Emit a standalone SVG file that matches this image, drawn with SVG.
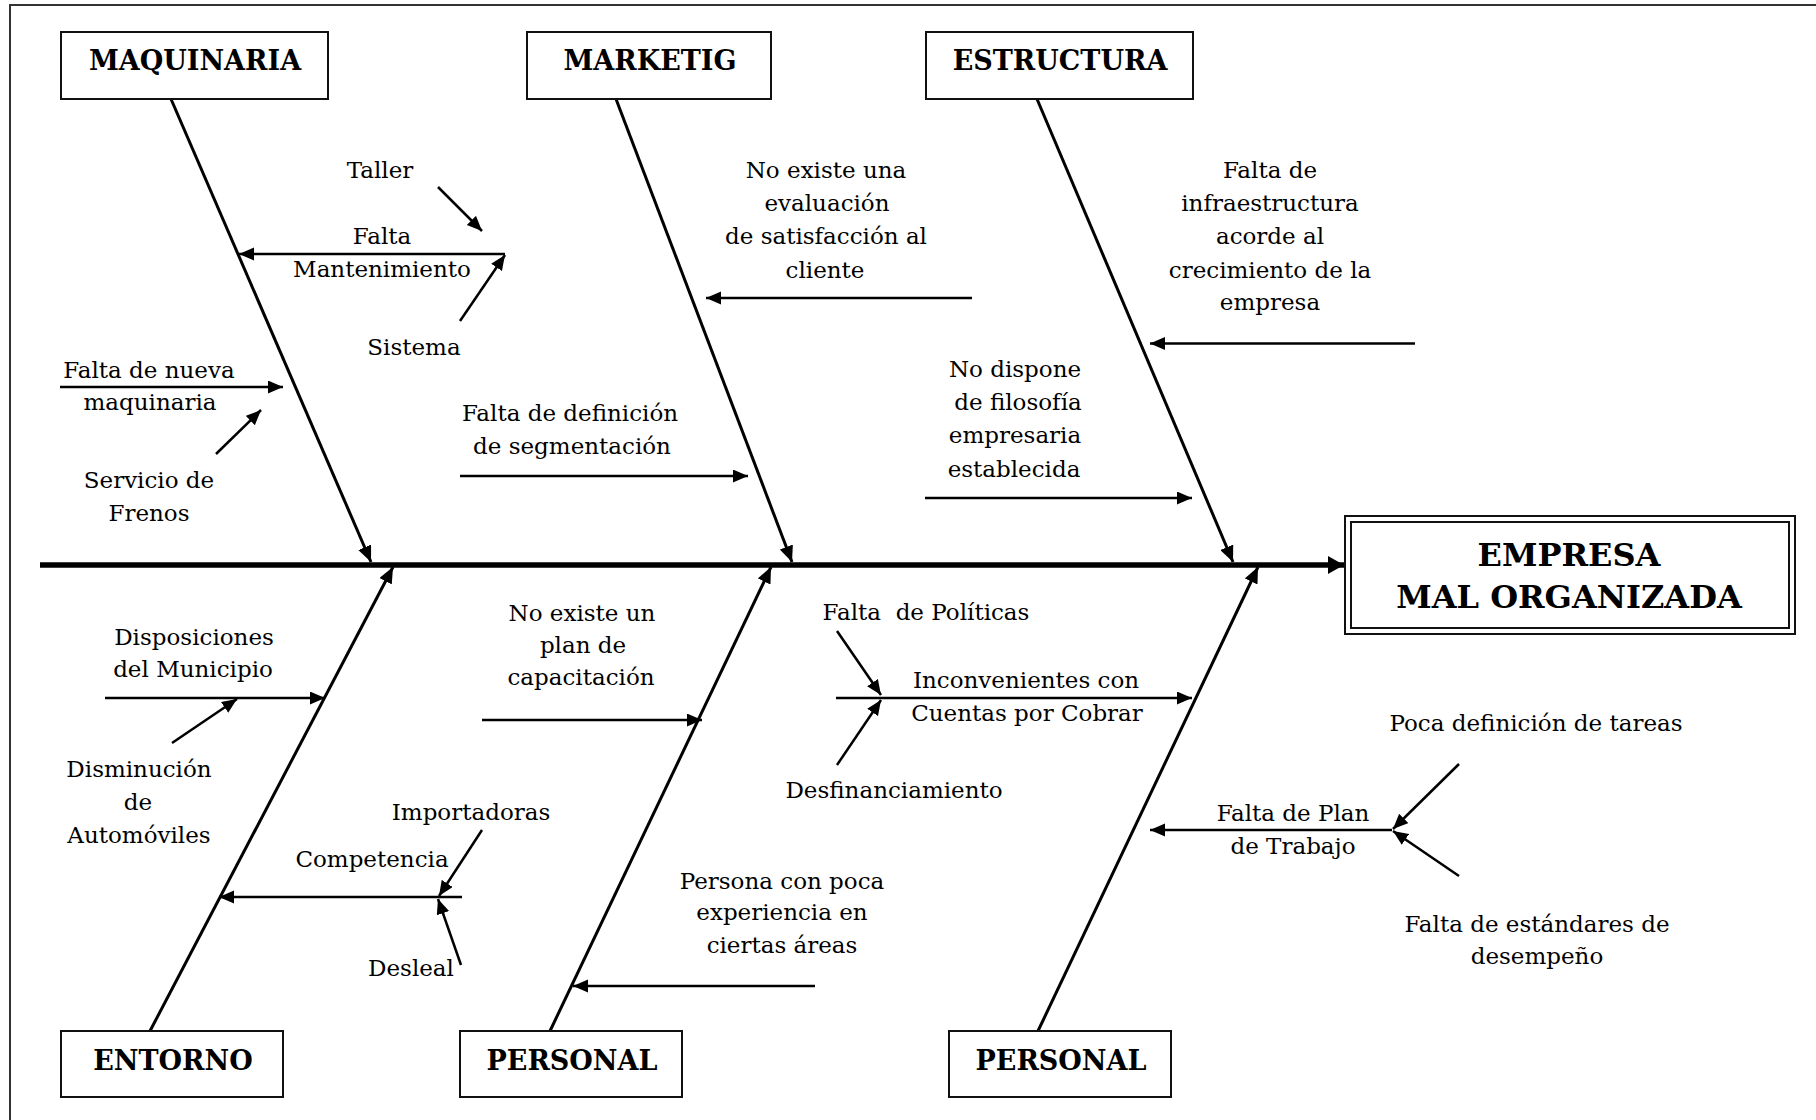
<svg xmlns="http://www.w3.org/2000/svg" width="1816" height="1120" viewBox="0 0 1816 1120">
<style>
.frame{fill:none;stroke:#333;stroke-width:2}
.box{fill:#fff;stroke:#111;stroke-width:2}
.lbl{font-family:"DejaVu Serif","Liberation Serif",serif;font-weight:bold;font-size:27px;fill:#000;text-anchor:middle}
.big{font-family:"DejaVu Serif","Liberation Serif",serif;font-weight:bold;font-size:32px;fill:#000;text-anchor:middle}
.t{font-family:"DejaVu Serif","Liberation Serif",serif;font-size:23px;fill:#000;text-anchor:middle}
.bone{stroke:#000;stroke-width:3;fill:none}
.sub{stroke:#000;stroke-width:2.5;fill:none;marker-end:url(#ah)}
</style>
<defs>
<marker id="ah" markerUnits="userSpaceOnUse" markerWidth="16" markerHeight="14" refX="15" refY="6.5" orient="auto">
<path d="M0,0 L15,6.5 L0,13 z" fill="#000"/>
</marker>
<marker id="ahb" markerUnits="userSpaceOnUse" markerWidth="17" markerHeight="14" refX="16" refY="7" orient="auto">
<path d="M0,0 L16,7 L0,14 z" fill="#000"/>
</marker>
<marker id="ahm" markerUnits="userSpaceOnUse" markerWidth="17" markerHeight="18" refX="16" refY="9" orient="auto">
<path d="M0,0 L16,9 L0,18 z" fill="#000"/>
</marker>
</defs>
<rect x="10" y="5" width="1830" height="1140" class="frame"/>

<g id="connectors">
<line x1="40" y1="565" x2="1344" y2="565" stroke="#000" stroke-width="5.5" marker-end="url(#ahm)"/>
<line x1="171" y1="99" x2="371" y2="562" class="bone" marker-end="url(#ahb)"/>
<line x1="616" y1="99" x2="792" y2="562" class="bone" marker-end="url(#ahb)"/>
<line x1="1037" y1="99" x2="1233" y2="562" class="bone" marker-end="url(#ahb)"/>
<line x1="150" y1="1031" x2="393" y2="567" class="bone" marker-end="url(#ahb)"/>
<line x1="550" y1="1031" x2="771" y2="567" class="bone" marker-end="url(#ahb)"/>
<line x1="1038" y1="1031" x2="1258" y2="567" class="bone" marker-end="url(#ahb)"/>

<line x1="438" y1="187" x2="482" y2="231" class="sub"/>
<line x1="505" y1="254" x2="239" y2="254" class="sub"/>
<line x1="460" y1="321" x2="505" y2="255" class="sub"/>
<line x1="60" y1="387" x2="283" y2="387" class="sub"/>
<line x1="216" y1="454" x2="261" y2="410" class="sub"/>
<line x1="972" y1="298" x2="706" y2="298" class="sub"/>
<line x1="460" y1="476" x2="748" y2="476" class="sub"/>
<line x1="925" y1="498" x2="1192" y2="498" class="sub"/>
<line x1="1415" y1="343.5" x2="1150" y2="343.5" class="sub"/>
<line x1="105" y1="698" x2="325" y2="698" class="sub"/>
<line x1="172" y1="743" x2="237" y2="699" class="sub"/>
<line x1="482" y1="830" x2="439" y2="896" class="sub"/>
<line x1="462" y1="897" x2="219" y2="897" class="sub"/>
<line x1="461" y1="965" x2="438" y2="899" class="sub"/>
<line x1="482" y1="720" x2="702" y2="720" class="sub"/>
<line x1="815" y1="986" x2="573" y2="986" class="sub"/>
<line x1="837" y1="631" x2="881" y2="695" class="sub"/>
<line x1="836" y1="698" x2="1192" y2="698" class="sub"/>
<line x1="837" y1="765" x2="881" y2="700" class="sub"/>
<line x1="1392" y1="830" x2="1150" y2="830" class="sub"/>
<line x1="1459" y1="764" x2="1393" y2="829" class="sub"/>
<line x1="1459" y1="876" x2="1393" y2="831" class="sub"/>
</g>

<g id="maquinaria"><rect x="61" y="32" width="267" height="67" class="box"/><text x="195" y="70" class="lbl">MAQUINARIA</text></g>
<g id="marketig"><rect x="527" y="32" width="244" height="67" class="box"/><text x="650" y="70" class="lbl">MARKETIG</text></g>
<g id="estructura"><rect x="926" y="32" width="267" height="67" class="box"/><text x="1060" y="70" class="lbl">ESTRUCTURA</text></g>
<g id="entorno"><rect x="61" y="1031" width="222" height="66" class="box"/><text x="173" y="1070" class="lbl">ENTORNO</text></g>
<g id="personal1"><rect x="460" y="1031" width="222" height="66" class="box"/><text x="572" y="1070" class="lbl">PERSONAL</text></g>
<g id="personal2"><rect x="949" y="1031" width="222" height="66" class="box"/><text x="1061" y="1070" class="lbl">PERSONAL</text></g>
<g id="empresa">
<rect x="1345" y="516" width="450" height="118" class="box"/>
<rect x="1351" y="522" width="438" height="106" fill="none" stroke="#111" stroke-width="2"/>
<text x="1569" y="566" class="big">EMPRESA</text>
<text x="1569" y="608" class="big">MAL ORGANIZADA</text>
</g>

<g id="causes">
<text x="380" y="177.5" class="t">Taller</text>
<text x="382" y="244" class="t">Falta</text>
<text x="382" y="277" class="t">Mantenimiento</text>
<text x="414" y="355" class="t">Sistema</text>
<text x="149" y="377.5" class="t">Falta de nueva</text>
<text x="150" y="410" class="t">maquinaria</text>
<text x="149" y="488" class="t">Servicio de</text>
<text x="149" y="521" class="t">Frenos</text>
<text x="826" y="177.5" class="t">No existe una</text>
<text x="827" y="211" class="t">evaluación</text>
<text x="826" y="244" class="t">de satisfacción al</text>
<text x="825" y="277.5" class="t">cliente</text>
<text x="570" y="421" class="t">Falta de definición</text>
<text x="572" y="453.5" class="t">de segmentación</text>
<text x="1015" y="377" class="t">No dispone</text>
<text x="1018" y="410" class="t">de filosofía</text>
<text x="1015" y="443" class="t">empresaria</text>
<text x="1014" y="477" class="t">establecida</text>
<text x="1270" y="177.5" class="t">Falta de</text>
<text x="1270" y="211" class="t">infraestructura</text>
<text x="1270" y="244" class="t">acorde al</text>
<text x="1270" y="277.5" class="t">crecimiento de la</text>
<text x="1270" y="310" class="t">empresa</text>
<text x="194" y="645" class="t">Disposiciones</text>
<text x="193" y="677" class="t">del Municipio</text>
<text x="139" y="777" class="t">Disminución</text>
<text x="138" y="810" class="t">de</text>
<text x="139" y="843" class="t">Automóviles</text>
<text x="471" y="820" class="t">Importadoras</text>
<text x="372" y="867" class="t">Competencia</text>
<text x="411" y="976" class="t">Desleal</text>
<text x="582" y="621" class="t">No existe un</text>
<text x="583" y="653" class="t">plan de</text>
<text x="581" y="685" class="t">capacitación</text>
<text x="926" y="620" class="t" xml:space="preserve">Falta  de Políticas</text>
<text x="1026" y="688" class="t">Inconvenientes con</text>
<text x="1027" y="721" class="t">Cuentas por Cobrar</text>
<text x="894" y="798" class="t">Desfinanciamiento</text>
<text x="782" y="889" class="t">Persona con poca</text>
<text x="782" y="920" class="t">experiencia en</text>
<text x="782" y="953" class="t">ciertas áreas</text>
<text x="1536" y="731" class="t">Poca definición de tareas</text>
<text x="1293" y="821" class="t">Falta de Plan</text>
<text x="1293" y="854" class="t">de Trabajo</text>
<text x="1537" y="932" class="t">Falta de estándares de</text>
<text x="1537" y="963.5" class="t">desempeño</text>
</g>
</svg>
